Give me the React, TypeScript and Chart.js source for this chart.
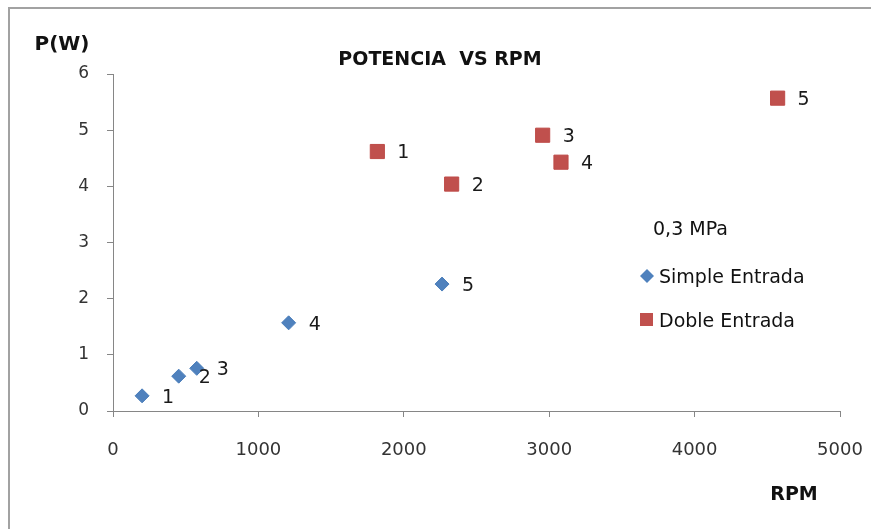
import React, { useEffect, useRef } from "react";
import { Chart, registerables } from "chart.js";

Chart.register(...registerables);

// ---- data ----
const simpleRPM = [200, 452, 576, 1208, 2263];
const simpleP = [0.27, 0.62, 0.76, 1.57, 2.26];
const dobleRPM = [1818, 2329, 2955, 3081, 4571];
const dobleP = [4.62, 4.04, 4.91, 4.43, 5.57];
const pointLabels = ["1", "2", "3", "4", "5"];
const seriesNames = ["Simple Entrada", "Doble Entrada"];
const chartTitle = "POTENCIA  VS RPM";
const yTitle = "P(W)";
const xTitle = "RPM";
const legendTitle = "0,3 MPa";
const xMin = 0, xMax = 5000, xStep = 1000;
const yMin = 0, yMax = 6, yStep = 1;

const W = 871, H = 529;
const FONT = "'DejaVu Sans', 'Liberation Sans', sans-serif";
const BLUE = "#4F81BD";
const BLUE_B = "#4A7EBB";
const RED = "#C0504D";
const RED_B = "#BE4B48";

const decorPlugin = {
  id: "decor",
  beforeDraw(chart: any) {
    const ctx = chart.ctx;
    ctx.save();
    ctx.fillStyle = "#ffffff";
    ctx.fillRect(0, 0, W, H);
    ctx.fillStyle = "#a2a2a2";
    ctx.fillRect(8, 7, W - 8, 2);
    ctx.fillRect(8, 7, 2, H - 7);
    ctx.restore();
  },
  afterDatasetsDraw(chart: any) {
    const ctx = chart.ctx;
    ctx.save();
    ctx.font = `19px ${FONT}`;
    ctx.fillStyle = "#1a1a1a";
    ctx.textAlign = "left";
    ctx.textBaseline = "middle";
    chart.data.datasets.forEach((ds: any, i: number) => {
      const meta = chart.getDatasetMeta(i);
      meta.data.forEach((el: any, j: number) => {
        ctx.fillText(pointLabels[j], el.x + 20, el.y + 2);
      });
    });
    ctx.restore();
  },
  afterDraw(chart: any) {
    const ctx = chart.ctx;
    ctx.save();
    ctx.fillStyle = "#111111";
    ctx.textBaseline = "alphabetic";
    ctx.textAlign = "center";
    ctx.font = `bold 19px ${FONT}`;
    ctx.fillText(chartTitle, 440, 65);
    ctx.font = `bold 20px ${FONT}`;
    ctx.fillText(yTitle, 62, 50);
    ctx.font = `bold 19px ${FONT}`;
    ctx.fillText(xTitle, 794, 500);

    // legend
    ctx.textAlign = "left";
    ctx.font = `19px ${FONT}`;
    ctx.fillText(legendTitle, 653, 235);
    ctx.fillText(seriesNames[0], 659, 283);
    ctx.fillText(seriesNames[1], 659, 327);
    // diamond
    ctx.fillStyle = BLUE;
    ctx.beginPath();
    const dx = 647, dy = 276, r = 7;
    ctx.moveTo(dx, dy - r);
    ctx.lineTo(dx + r, dy);
    ctx.lineTo(dx, dy + r);
    ctx.lineTo(dx - r, dy);
    ctx.closePath();
    ctx.fill();
    // square
    ctx.fillStyle = RED;
    ctx.fillRect(640, 313, 13, 13);
    ctx.restore();
  },
};

export default function App() {
  const ref = useRef<HTMLCanvasElement | null>(null);
  useEffect(() => {
    if (!ref.current) return;
    const chart = new Chart(ref.current, {
      type: "scatter",
      data: {
        datasets: [
          {
            label: seriesNames[0],
            data: simpleRPM.map((x, i) => ({ x, y: simpleP[i] })),
            backgroundColor: BLUE,
            borderColor: BLUE_B,
            borderWidth: 1,
            pointStyle: "rectRot",
            pointRadius: 7,
          },
          {
            label: seriesNames[1],
            data: dobleRPM.map((x, i) => ({ x, y: dobleP[i] })),
            backgroundColor: RED,
            borderColor: RED_B,
            borderWidth: 1,
            pointStyle: "rect",
            pointRadius: 10,
          },
        ],
      },
      options: {
        responsive: false,
        animation: false,
        devicePixelRatio: 1,
        layout: { padding: { left: 0, top: 74, right: 31, bottom: 0 } },
        plugins: {
          legend: { display: false },
          title: { display: false },
          tooltip: { enabled: false },
        },
        scales: {
          x: {
            type: "linear",
            min: xMin,
            max: xMax,
            afterFit: (s: any) => {
              s.height = 118;
              s.paddingLeft = 0;
              s.paddingRight = 0;
            },
            ticks: {
              stepSize: xStep,
              color: "#333333",
              font: { family: FONT, size: 18 },
              padding: 23,
              maxRotation: 0,
              callback: (v: any) => String(v),
            },
            grid: {
              drawOnChartArea: false,
              drawTicks: true,
              tickLength: 6,
              color: "#868686",
            },
            border: { display: true, color: "#868686", width: 1 },
          },
          y: {
            type: "linear",
            min: yMin,
            max: yMax,
            afterFit: (s: any) => {
              s.width = 113;
              s.paddingTop = 0;
              s.paddingBottom = 0;
            },
            ticks: {
              stepSize: yStep,
              color: "#333333",
              font: { family: FONT, size: 17 },
              padding: 18,
              callback: (v: any) => String(v),
            },
            grid: {
              drawOnChartArea: false,
              drawTicks: true,
              tickLength: 6,
              color: "#868686",
            },
            border: { display: true, color: "#868686", width: 1 },
          },
        },
      },
      plugins: [decorPlugin],
    } as any);
    return () => chart.destroy();
  }, []);
  return (
    <div style={{ position: "absolute", left: 0, top: 0, width: W, height: H, background: "#fff" }}>
      <canvas ref={ref} width={W} height={H} style={{ display: "block", width: W, height: H }} />
    </div>
  );
}
